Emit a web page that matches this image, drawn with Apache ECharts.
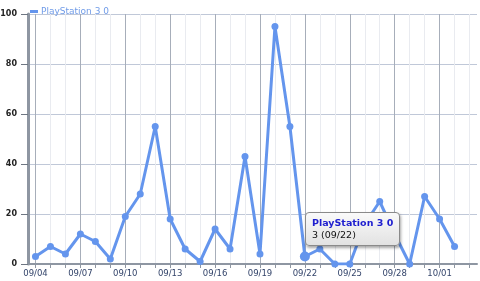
<!DOCTYPE html>
<html>
<head>
<meta charset="utf-8">
<script src="https://cdn.jsdelivr.net/npm/echarts@6/dist/echarts.min.js"></script>
<style>
html,body{margin:0;padding:0;background:#fff;}
#chart{width:480px;height:281px;}
</style>
</head>
<body>
<div id="chart"></div>
<script>
var seriesName = 'PlayStation 3 0';
var categories = ['09/04','09/05','09/06','09/07','09/08','09/09','09/10','09/11','09/12','09/13',
  '09/14','09/15','09/16','09/17','09/18','09/19','09/20','09/21','09/22','09/23',
  '09/24','09/25','09/26','09/27','09/28','09/29','09/30','10/01','10/02','10/03'];
var values = [3,7,4,12,9,2,19,28,55,18,6,1,14,6,43,4,95,55,3,6,0,0,16,25,12,0,27,18,7];
var yTicks = [0,20,40,60,80,100];
var hoverIndex = 18;

var chart = echarts.init(document.getElementById('chart'));
var font = 'DejaVu Sans, Verdana, sans-serif';
chart.setOption({
  animation: false,
  backgroundColor: '#ffffff',
  legend: {
    show: true, left: 25, top: 2, itemWidth: 8, itemHeight: 3, itemGap: 4,
    icon: 'rect',
    textStyle: {fontSize: 9, color: '#6f9be8', fontFamily: font, padding: [0,0,0,-2]},
    data: [seriesName]
  },
  grid: {left: 28, right: 3, top: 14, bottom: 17, containLabel: false, outerBoundsMode: 'none'},
  tooltip: {
    trigger: 'item',
    alwaysShowContent: true,
    showDelay: 0,
    transitionDuration: 0,
    position: [305, 212],
    padding: [4, 6],
    backgroundColor: '#efefef',
    borderColor: '#8a8a8a',
    borderWidth: 1,
    borderRadius: 4,
    extraCssText: 'background:linear-gradient(#fafafa,#e2e2e2);box-shadow:1px 2px 3px rgba(0,0,0,0.35);line-height:12px;',
    formatter: function (p) {
      return '<div style="font-family:DejaVu Sans,Verdana,sans-serif;font-size:9.5px;font-weight:bold;color:#1d1dcf;">' + p.seriesName + '</div>' +
             '<div style="font-family:DejaVu Sans,Verdana,sans-serif;font-size:9.5px;color:#111;">' + p.value + ' (' + p.name + ')</div>';
    }
  },
  xAxis: {
    type: 'category',
    data: categories,
    boundaryGap: true,
    axisLine: {show: true, lineStyle: {color: '#8e96a2', width: 2}},
    axisTick: {show: true, alignWithLabel: true, interval: 0, length: 4, lineStyle: {color: '#8e96a2', width: 1}},
    axisLabel: {interval: 2, fontSize: 8.5, color: '#33446a', fontFamily: font, margin: 5},
    splitLine: {show: true, interval: 0, alignWithLabel: true,
      lineStyle: {color: ['#a7aeba', '#e9ebf0', '#e9ebf0'], width: 1}}
  },
  yAxis: {
    type: 'value', min: 0, max: 100, interval: 20,
    axisLine: {show: true, lineStyle: {color: '#8e96a2', width: 3}},
    axisTick: {show: true, length: 7, lineStyle: {color: '#6e7682', width: 1}},
    axisLabel: {fontSize: 8, color: '#222', fontWeight: 'bold', fontFamily: font, margin: 11,
      formatter: function (v) { return yTicks.indexOf(v) >= 0 ? String(v) : ''; }},
    splitLine: {show: true, lineStyle: {color: '#c0c8d8', width: 1}}
  },
  series: [{
    name: seriesName,
    type: 'line',
    data: values,
    color: '#6495ed',
    lineStyle: {width: 3, color: '#6495ed'},
    itemStyle: {color: '#6495ed', borderWidth: 0},
    symbol: 'circle',
    symbolSize: function (v, p) { return p.dataIndex === hoverIndex ? 10 : 7; },
    showAllSymbol: true,
    emphasis: {disabled: true}
  }]
});
chart.dispatchAction({type: 'showTip', seriesIndex: 0, dataIndex: hoverIndex});
</script>
</body>
</html>
